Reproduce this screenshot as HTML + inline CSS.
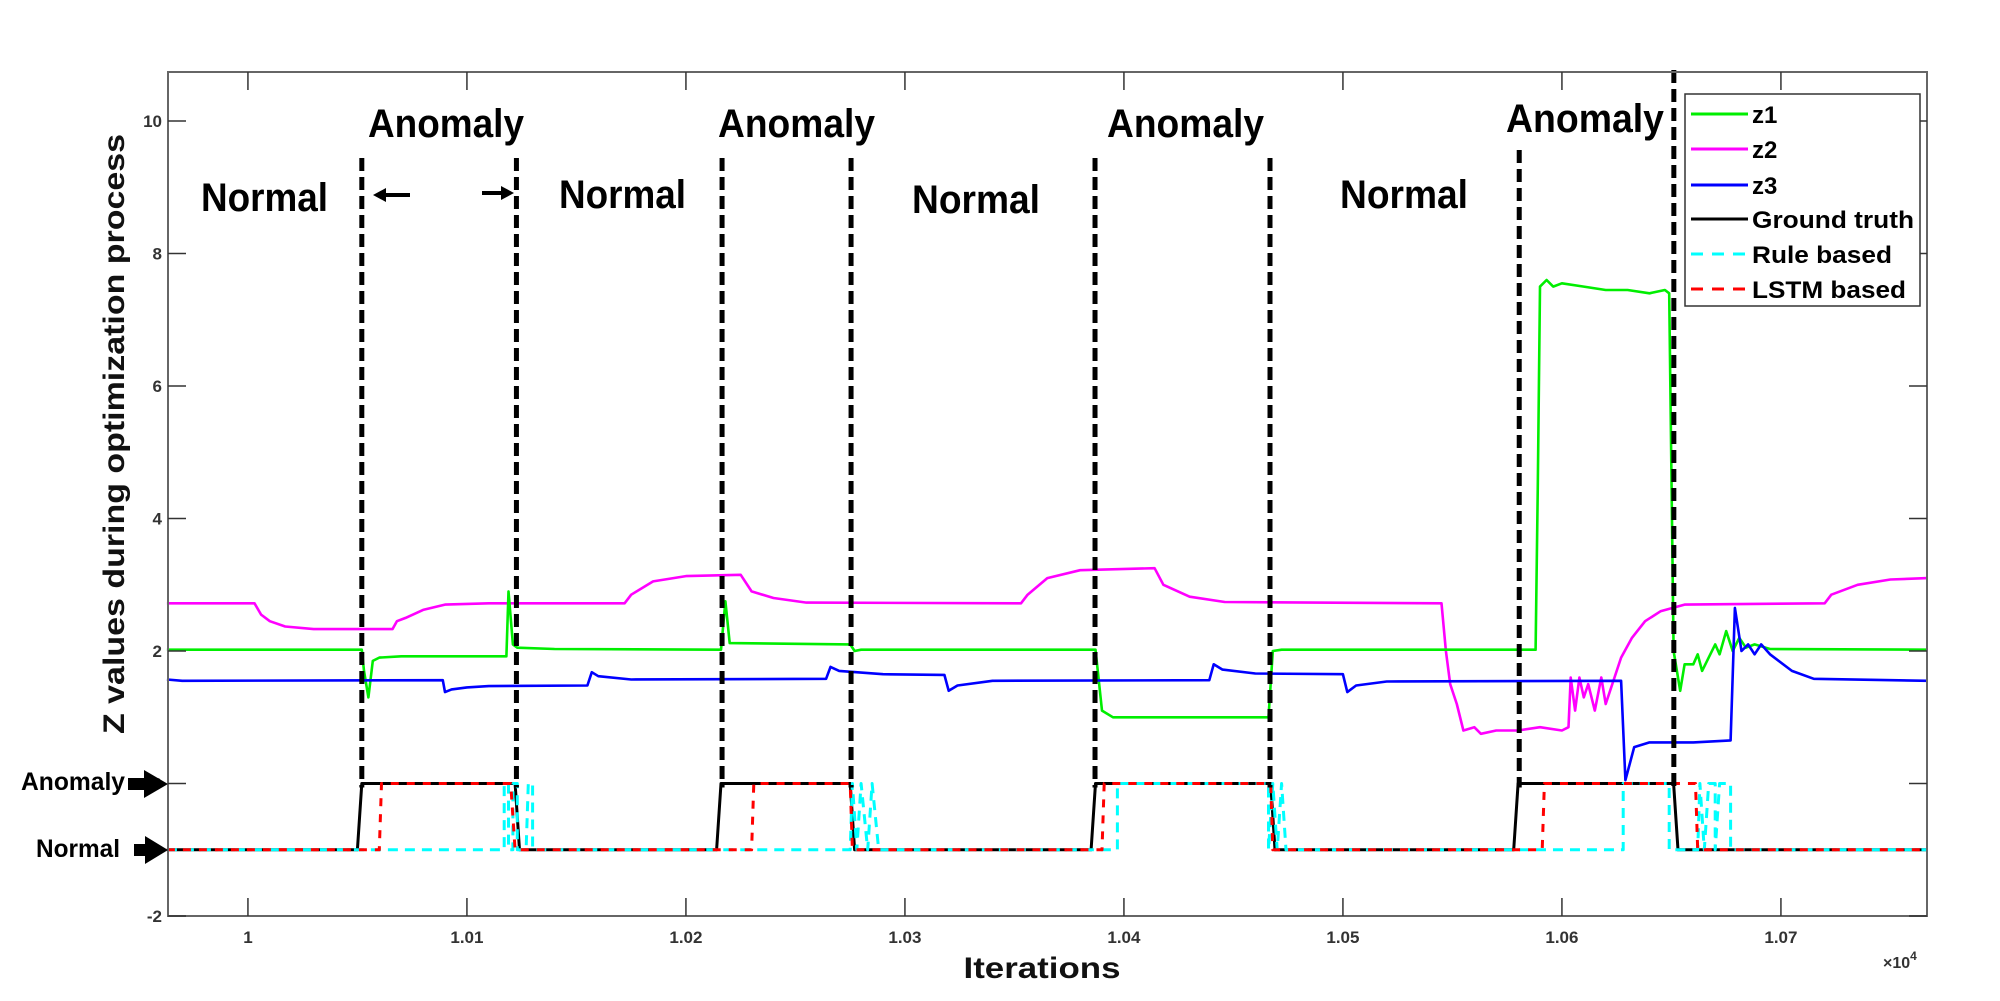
<!DOCTYPE html>
<html><head><meta charset="utf-8"><style>
html,body{margin:0;padding:0;background:#fff}
svg{display:block}
text{font-family:"Liberation Sans",Arial,sans-serif;font-weight:bold}
</style></head><body>
<svg id="chart" width="2000" height="1001" viewBox="0 0 2000 1001" xmlns="http://www.w3.org/2000/svg">
<rect x="0" y="0" width="2000" height="1001" fill="#fff"/>
<g id="marks"></g>
<g id="axes"></g>
<g id="annot"></g>
</svg>
<script>
const xTicks = [10000, 10100, 10200, 10300, 10400, 10500, 10600, 10700];
const xTickLabels = ["1", "1.01", "1.02", "1.03", "1.04", "1.05", "1.06", "1.07"];
const yTicks = [-2, 0, 2, 4, 6, 8, 10];
const yTickLabels = ["-2", "0", "2", "4", "6", "8", "10"];
const z1 = [[9963,2.02],[10052,2.02],[10053,1.7],[10055,1.3],[10057,1.85],[10060,1.9],[10070,1.92],[10118,1.92],[10119,2.9],[10121,2.1],[10123,2.05],[10140,2.03],[10216,2.02],[10218,2.75],[10220,2.12],[10275,2.1],[10277,2.0],[10280,2.02],[10387,2.02],[10390,1.1],[10395,1.0],[10466,1.0],[10468,2.0],[10472,2.02],[10588,2.02],[10589,4.5],[10590,7.5],[10593,7.6],[10596,7.5],[10600,7.55],[10610,7.5],[10620,7.45],[10630,7.45],[10640,7.4],[10647,7.45],[10649,7.4],[10651,2.0],[10654,1.4],[10656,1.8],[10660,1.8],[10662,1.95],[10664,1.7],[10667,1.9],[10670,2.1],[10672,1.95],[10675,2.3],[10678,2.0],[10681,2.2],[10684,2.05],[10688,2.1],[10695,2.03],[10767,2.02]];
const z2 = [[9963,2.72],[10003,2.72],[10006,2.55],[10010,2.45],[10017,2.37],[10030,2.33],[10066,2.33],[10068,2.45],[10072,2.5],[10080,2.62],[10090,2.7],[10110,2.72],[10172,2.72],[10175,2.85],[10185,3.05],[10200,3.13],[10225,3.15],[10230,2.9],[10240,2.8],[10255,2.73],[10353,2.72],[10356,2.85],[10365,3.1],[10380,3.22],[10414,3.25],[10418,3.0],[10430,2.82],[10446,2.74],[10545,2.72],[10547,2.0],[10549,1.5],[10552,1.2],[10555,0.8],[10560,0.85],[10563,0.75],[10570,0.8],[10580,0.8],[10590,0.85],[10600,0.8],[10603,0.85],[10604,1.6],[10606,1.1],[10608,1.6],[10610,1.3],[10612,1.5],[10615,1.1],[10618,1.6],[10620,1.2],[10623,1.5],[10627,1.9],[10632,2.2],[10638,2.45],[10645,2.6],[10656,2.7],[10720,2.72],[10723,2.85],[10735,3.0],[10750,3.08],[10767,3.1]];
const z3 = [[9963,1.57],[9970,1.55],[10089,1.56],[10090,1.38],[10093,1.42],[10100,1.45],[10110,1.47],[10155,1.48],[10157,1.68],[10160,1.62],[10175,1.57],[10264,1.58],[10266,1.76],[10270,1.7],[10290,1.65],[10318,1.64],[10320,1.4],[10324,1.48],[10340,1.55],[10439,1.56],[10441,1.8],[10445,1.72],[10460,1.66],[10500,1.65],[10502,1.38],[10506,1.48],[10520,1.54],[10627,1.55],[10629,0.05],[10633,0.55],[10640,0.62],[10660,0.62],[10677,0.65],[10679,2.65],[10682,2.0],[10685,2.1],[10688,1.95],[10691,2.1],[10695,1.95],[10705,1.7],[10715,1.58],[10767,1.55]];
const groundTruth = [[9963,-1],[10050,-1],[10052,0],[10122,0],[10124,-1],[10214,-1],[10216,0],[10275,0],[10277,-1],[10385,-1],[10387,0],[10467,0],[10469,-1],[10578,-1],[10580,0],[10651,0],[10653,-1],[10767,-1]];
const ruleBased = [[9963,-1],[10117,-1],[10117,0],[10119,0],[10119,-1],[10121,-1],[10121,0],[10123,0],[10123,-1],[10127,-1],[10128,0],[10130,0],[10130,-1],[10275,-1],[10276,0],[10278,-1],[10280,0],[10283,-1],[10285,0],[10288,-1],[10397,-1],[10397,0],[10466,0],[10466,-1],[10468,0],[10470,-1],[10472,0],[10474,-1],[10628,-1],[10628,0],[10649,0],[10649,-1],[10662,-1],[10663,0],[10665,-1],[10667,0],[10670,0],[10670,-1],[10672,0],[10677,0],[10677,-1],[10767,-1]];
const lstmBased = [[9963,-1],[10060,-1],[10061,0],[10120,0],[10122,-1],[10230,-1],[10231,0],[10275,0],[10276,-1],[10390,-1],[10391,0],[10467,0],[10468,-1],[10591,-1],[10592,0],[10661,0],[10662,-1],[10767,-1]];
const boundaries = [10052, 10122.6, 10216.5, 10275.4, 10386.8, 10466.7, 10580.5, 10651.1];

const L=168,R=1927,T=72,B=916;
const X0=9963.5,X1=10766.7,Y0=-2,Y1=10.74;
function sx(v){return L+(v-X0)/(X1-X0)*(R-L);}
function sy(v){return B-(v-Y0)/(Y1-Y0)*(B-T);}
const NS="http://www.w3.org/2000/svg";
function mk(tag,parent,attrs){const e=document.createElementNS(NS,tag);for(const k in attrs)e.setAttribute(k,attrs[k]);parent.appendChild(e);return e;}
const marks=document.getElementById('marks'),axes=document.getElementById('axes'),annot=document.getElementById('annot');
function series(data,color,w,dash,name){
  const d=data.map((p,i)=>(i?'L':'M')+sx(p[0]).toFixed(1)+' '+sy(p[1]).toFixed(1)).join(' ');
  const p=mk('path',marks,{d:d,fill:'none',stroke:color,'stroke-width':w,'stroke-linejoin':'round'});
  if(dash)p.setAttribute('stroke-dasharray',dash);
  
  
}
series(z2,'#ff00ff',2.6,null,'z2-line');
series(z1,'#00ee00',2.6,null,'z1-line');
series(z3,'#0000ff',2.6,null,'z3-line');
series(groundTruth,'#000',3,null,'ground-truth-line');
series(ruleBased,'#00ffff',3,'10,7','rule-based-line');
series(lstmBased,'#ff0000',3,'8,8','lstm-based-line');
boundaries.forEach((b,i)=>{
  const top=(i==7)?T-2:(i==6?150:158);
  const ln=mk('line',marks,{x1:sx(b),x2:sx(b),y1:top,y2:sy(0)+4,stroke:'#000','stroke-width':5,'stroke-dasharray':'13,6'});
  
  
});
const box=mk('rect',axes,{x:L,y:T,width:R-L,height:B-T,fill:'none',stroke:'#666','stroke-width':2});


xTicks.forEach((t,i)=>{
  const x=sx(t);
  mk('line',axes,{x1:x,x2:x,y1:B,y2:B-18,stroke:'#333','stroke-width':1.5});
  mk('line',axes,{x1:x,x2:x,y1:T,y2:T+18,stroke:'#333','stroke-width':1.5});
  const tx=mk('text',axes,{x:x,y:943,'font-size':17,'text-anchor':'middle',fill:'#333'});
  tx.textContent=xTickLabels[i];
  
  
});
yTicks.forEach((t,i)=>{
  const y=sy(t);
  mk('line',axes,{x1:L,x2:L+18,y1:y,y2:y,stroke:'#333','stroke-width':1.5});
  mk('line',axes,{x1:R,x2:R-18,y1:y,y2:y,stroke:'#333','stroke-width':1.5});
  const tx=mk('text',axes,{x:162,y:y+6,'font-size':17,'text-anchor':'end',fill:'#333'});
  tx.textContent=yTickLabels[i];
  
  
});
</script>
<svg width="2000" height="1001" style="position:absolute;left:0;top:0" xmlns="http://www.w3.org/2000/svg">
<text x="1883" y="968" font-size="16" fill="#333">×10<tspan font-size="12" dy="-8">4</tspan></text>
<text x="1042" y="978" font-size="30" text-anchor="middle" textLength="157" lengthAdjust="spacingAndGlyphs" fill="#111">Iterations</text>
<text transform="translate(124,434) rotate(-90)" font-size="30" text-anchor="middle" textLength="600" lengthAdjust="spacingAndGlyphs" fill="#111">Z values during optimization process</text>
<g font-size="40" fill="#000">
<text x="201" y="211" textLength="127" lengthAdjust="spacingAndGlyphs">Normal</text>
<text x="368" y="137" textLength="156" lengthAdjust="spacingAndGlyphs">Anomaly</text>
<text x="559" y="208" textLength="127" lengthAdjust="spacingAndGlyphs">Normal</text>
<text x="718" y="137" textLength="157" lengthAdjust="spacingAndGlyphs">Anomaly</text>
<text x="912" y="213" textLength="128" lengthAdjust="spacingAndGlyphs">Normal</text>
<text x="1107" y="137" textLength="157" lengthAdjust="spacingAndGlyphs">Anomaly</text>
<text x="1340" y="208" textLength="128" lengthAdjust="spacingAndGlyphs">Normal</text>
<text x="1506" y="132" textLength="158" lengthAdjust="spacingAndGlyphs">Anomaly</text>
</g>
<g><line x1="384" y1="195" x2="410" y2="195" stroke="#000" stroke-width="4"/><polygon points="373,195 386,188 386,202" fill="#000"/></g>
<g><line x1="482" y1="193" x2="504" y2="193" stroke="#000" stroke-width="4"/><polygon points="514,193 501,186 501,200" fill="#000"/></g>
<text x="21" y="790" font-size="25" textLength="104" lengthAdjust="spacingAndGlyphs">Anomaly</text>
<g><rect x="128" y="778" width="18" height="12" fill="#000"/><polygon points="144,770 168,784 144,798" fill="#000"/></g>
<text x="36" y="857" font-size="25" textLength="84" lengthAdjust="spacingAndGlyphs">Normal</text>
<g><rect x="134" y="844" width="14" height="12" fill="#000"/><polygon points="145,836 168,850 145,864" fill="#000"/></g>
<g>
<rect x="1685" y="94" width="235" height="212" fill="#fff" stroke="#333" stroke-width="1.5"/>
<line x1="1691" y1="114" x2="1748" y2="114" stroke="#00ee00" stroke-width="3"/>
<line x1="1691" y1="149" x2="1748" y2="149" stroke="#ff00ff" stroke-width="3"/>
<line x1="1691" y1="185" x2="1748" y2="185" stroke="#0000ff" stroke-width="3"/>
<line x1="1691" y1="219" x2="1748" y2="219" stroke="#000" stroke-width="3"/>
<line x1="1691" y1="254" x2="1748" y2="254" stroke="#00ffff" stroke-width="3" stroke-dasharray="12,9"/>
<line x1="1691" y1="289" x2="1748" y2="289" stroke="#ff0000" stroke-width="3" stroke-dasharray="12,9"/>
<g font-size="24" fill="#000">
<text x="1752" y="123">z1</text>
<text x="1752" y="158">z2</text>
<text x="1752" y="194">z3</text>
<text x="1752" y="228" textLength="162" lengthAdjust="spacingAndGlyphs">Ground truth</text>
<text x="1752" y="263" textLength="140" lengthAdjust="spacingAndGlyphs">Rule based</text>
<text x="1752" y="298" textLength="154" lengthAdjust="spacingAndGlyphs">LSTM based</text>
</g>
</g>
</svg>
</body></html>
